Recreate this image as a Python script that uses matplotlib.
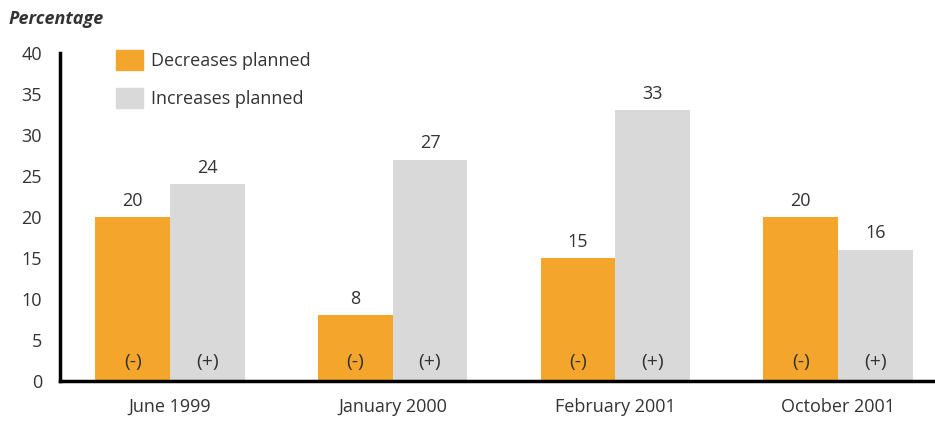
import numpy as np
import matplotlib.pyplot as plt
from matplotlib.patches import Patch

plt.rcParams['font.family'] = ['Open Sans', 'DejaVu Sans']

# Data
periods = ['June 1999', 'January 2000', 'February 2001', 'October 2001']
decreases = [20, 8, 15, 20]
increases = [24, 27, 33, 16]
yticks = [0, 5, 10, 15, 20, 25, 30, 35, 40]

orange = '#F4A52C'
grey = '#D9D9D9'
txt = '#333333'
fs = 13

fig = plt.figure(figsize=(9.35, 4.23), dpi=100)
ax = fig.add_axes([0.0642, 0.0993, 0.9358, 0.7754])

x = np.arange(len(periods))
w = 0.335
ax.bar(x - w/2, decreases, w, color=orange)
ax.bar(x + w/2, increases, w, color=grey)

for i in range(len(x)):
    ax.text(x[i] - w/2, decreases[i] + 0.9, str(decreases[i]), ha='center', va='bottom', fontsize=fs, color=txt)
    ax.text(x[i] + w/2, increases[i] + 0.9, str(increases[i]), ha='center', va='bottom', fontsize=fs, color=txt)
    ax.text(x[i] - w/2, 2.3, '(-)', ha='center', va='center', fontsize=fs + 1, color=txt)
    ax.text(x[i] + w/2, 2.3, '(+)', ha='center', va='center', fontsize=fs + 1, color=txt)

ax.set_xlim(-0.494, 3.436)
ax.set_ylim(0, 40)
ax.set_yticks(yticks)
ax.set_xticks(x)
ax.set_xticklabels(periods)
ax.tick_params(length=0, labelsize=fs, colors=txt)
ax.tick_params(axis='x', pad=12)
ax.tick_params(axis='y', pad=13)
for s in ['top', 'right']:
    ax.spines[s].set_visible(False)
ax.spines['left'].set_linewidth(2.5)
ax.spines['bottom'].set_linewidth(2.5)

handles = [Patch(color=orange, label='Decreases planned'), Patch(color=grey, label='Increases planned')]
ax.legend(handles=handles, loc='upper left', bbox_to_anchor=(0.045, 1.06), frameon=False,
          fontsize=fs, handlelength=1.5, handleheight=1.4, handletextpad=0.45, labelspacing=0.95,
          labelcolor=txt)

fig.text(0.009, 0.955, 'Percentage', fontsize=fs, fontweight='bold', fontstyle='italic', color=txt, va='center')

fig.savefig('out.png', dpi=100)
